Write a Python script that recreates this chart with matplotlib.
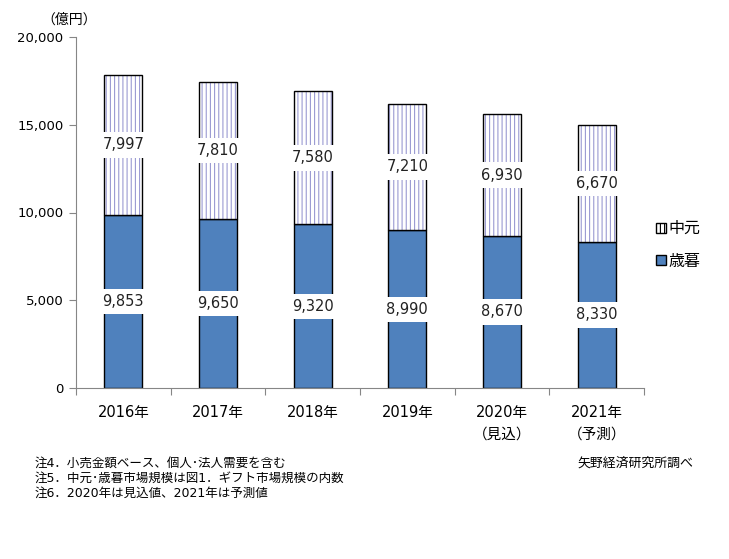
import matplotlib.pyplot as plt
from matplotlib.patches import Patch

plt.rcParams['font.family'] = ['DejaVu Sans', 'Noto Sans CJK JP']
plt.rcParams['hatch.linewidth'] = 0.8

# データ（億円）
years = ["2016年", "2017年", "2018年", "2019年", "2020年\n（見込）", "2021年\n（予測）"]
seibo = [9853, 9650, 9320, 8990, 8670, 8330]      # 歳暮
chugen = [7997, 7810, 7580, 7210, 6930, 6670]     # 中元
yticks = [0, 5000, 10000, 15000, 20000]
notes = ["注4．小売金額ベース、個人･法人需要を含む",
         "注5．中元･歳暮市場規模は図1．ギフト市場規模の内数",
         "注6．2020年は見込値、2021年は予測値"]

blue = "#4f81bd"
hatch_col = "#9a9ad2"

fig = plt.figure(figsize=(7.29, 5.59), dpi=100)
ax = fig.add_axes([76 / 729, 1 - 388 / 559, 568 / 729, 351 / 559])

x = range(len(years))
w = 0.4
ax.bar(x, seibo, w, color=blue, edgecolor="black", linewidth=1, zorder=2)
# 中元：縦線ハッチ
ax.bar(x, chugen, w, bottom=seibo, color="white", edgecolor=hatch_col,
       hatch="||||", linewidth=0, zorder=2)
ax.bar(x, chugen, w, bottom=seibo, fill=False, edgecolor="black", linewidth=1, zorder=3)

box = dict(boxstyle="square,pad=0.35", fc="white", ec="none")
for i in x:
    ax.text(i, seibo[i] / 2, f"{seibo[i]:,}", ha="center", va="center",
            fontsize=10.5, color="#222222", bbox=box, zorder=4)
    ax.text(i, seibo[i] + chugen[i] / 2, f"{chugen[i]:,}", ha="center", va="center",
            fontsize=10.5, color="#222222", bbox=box, zorder=4)

ax.set_xlim(-0.5, len(years) - 0.5)
ax.set_ylim(0, 20000)
ax.set_yticks(yticks)
ax.set_yticklabels([f"{v:,}" for v in yticks], fontsize=9.5)
ax.set_xticks([i - 0.5 for i in range(len(years) + 1)])
ax.set_xticklabels([])
ax.set_xticks(list(x), minor=True)
ax.set_xticklabels(years, minor=True, fontsize=10.5, linespacing=1.6, va="top")
ax.tick_params(axis="x", which="major", length=5, color="#868686", direction="out")
ax.tick_params(axis="x", which="minor", length=0, pad=12)
ax.tick_params(axis="y", length=5, color="#868686", direction="out", pad=4)

for s in ["top", "right"]:
    ax.spines[s].set_visible(False)
for s in ["left", "bottom"]:
    ax.spines[s].set_color("#868686")

fig.text(97 / 729, 1 - 20 / 559, "（億円）", ha="right", va="center", fontsize=10)

handles = [Patch(facecolor="white", edgecolor=hatch_col, hatch="||||", label="中元"),
           Patch(facecolor=blue, edgecolor="black", label="歳暮")]
leg = fig.legend(handles=handles, loc="center left", bbox_to_anchor=(642 / 729, 1 - 245 / 559),
                 frameon=False, fontsize=11.5, handlelength=0.6, handleheight=0.6,
                 handletextpad=0.15, labelspacing=1.1)
leg.get_patches()[0].set_edgecolor("black")

for k, n in enumerate(notes):
    fig.text(35 / 729, 1 - (463 + k * 15) / 559, n, fontsize=9, va="center")
fig.text(693 / 729, 1 - 463 / 559, "矢野経済研究所調べ", fontsize=9.3, va="center", ha="right")

fig.savefig("out.png", dpi=100, facecolor="white")
